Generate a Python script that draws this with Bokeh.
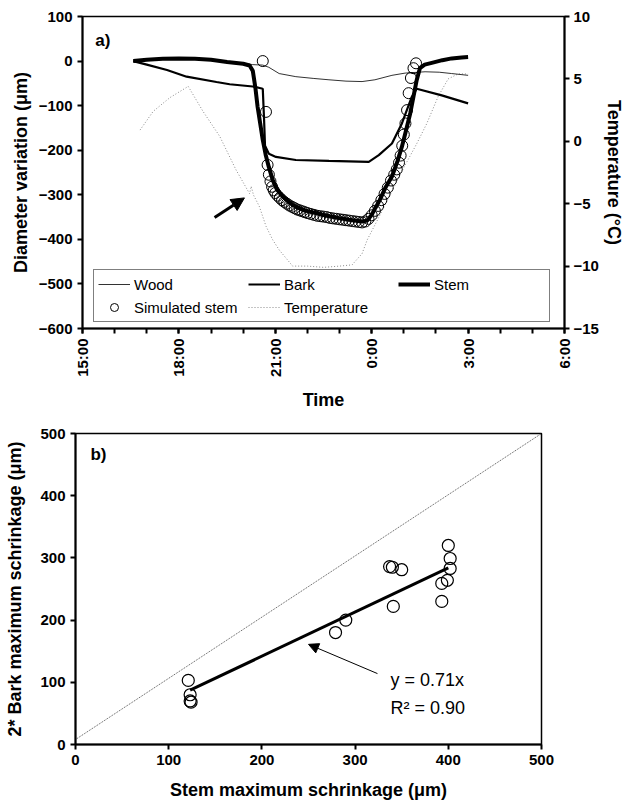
from bokeh.plotting import figure
from bokeh.models import (Range1d, LinearAxis, FixedTicker, Legend, LegendItem,
                          Arrow, NormalHead, Label)
from bokeh.layouts import column, row
from bokeh.embed import file_html
from bokeh.resources import INLINE

FONT = "Liberation Sans"

# ---------------- panel a) data (time in hours; 24 = 0:00 next day) ----------------
time_ticks = [15, 18, 21, 24, 27, 30]
time_labels = ["15:00", "18:00", "21:00", "0:00", "3:00", "6:00"]
time_minor = [15, 16, 17, 18, 19, 20, 21, 22, 23, 24, 25, 26, 27, 28, 29, 30]
diam_ticks = [-600, -500, -400, -300, -200, -100, 0, 100]
temp_ticks = [-15, -10, -5, 0, 5, 10]

wood_t = [16.58, 17.0, 17.5, 18.0, 18.5, 19.0, 19.5, 20.0, 20.3, 20.61, 20.8, 21.12, 21.64,
          22.2, 22.67, 23.2, 23.7, 24.1, 24.63, 25.04, 25.66, 26.1, 26.49, 27.0]
wood_d = [0, 2, 4, 5, 4, 2, -2, -5, -8, -9, -14, -28, -35,
          -39, -42, -45, -46, -42, -32, -27, -24, -25, -28, -32]

bark_t = [16.58, 17.0, 17.63, 18.24, 19.17, 19.58, 20.3, 20.61, 20.65, 20.68, 20.8, 21.02,
          21.64, 22.67, 23.91, 24.22, 24.63, 24.94, 25.25, 25.4, 26.18, 27.0]
bark_d = [0, -8, -20, -35, -47, -52, -57, -62, -130, -190, -208, -215,
          -222, -224, -226, -211, -185, -140, -80, -62, -77, -95]

stem_t = [16.58, 17.0, 17.5, 18.0, 18.5, 19.0, 19.5, 20.0, 20.2, 20.3, 20.38, 20.45, 20.53,
          20.61, 20.7, 20.8, 20.92, 21.05, 21.23, 21.45, 21.64, 21.9, 22.26, 22.6, 22.98,
          23.3, 23.7, 23.86, 24.0, 24.11, 24.25, 24.42, 24.63, 24.8, 24.94, 25.07, 25.2,
          25.3, 25.4, 25.5, 25.65, 25.87, 26.2, 26.49, 26.8, 27.0]
stem_d = [0, 3, 5, 6, 5, 3, -2, -6, -10, -22, -60, -103, -140,
          -177, -210, -238, -267, -288, -304, -318, -327, -335, -341, -347, -352,
          -356, -360, -358, -345, -330, -312, -285, -259, -225, -192, -155, -117,
          -80, -43, -16, -8, -4, 2, 6, 8, 9]

sim_t = [20.61, 20.71, 20.76, 20.80, 20.85, 20.90, 20.95, 21.00, 21.07, 21.14, 21.21, 21.28,
         21.36, 21.44, 21.52, 21.60, 21.68, 21.76, 21.84, 21.92, 22.00, 22.10, 22.20, 22.30,
         22.40, 22.50, 22.60, 22.70, 22.80, 22.90, 23.00, 23.10, 23.20, 23.30, 23.40, 23.50,
         23.60, 23.70, 23.80, 23.90, 24.00, 24.10, 24.20, 24.30, 24.40, 24.50, 24.60, 24.70,
         24.78, 24.85, 24.90, 24.95, 25.00, 25.05, 25.10, 25.15, 25.22, 25.30, 25.38]
sim_d = [0, -114, -233, -255, -270, -282, -290, -296, -302, -307, -312, -316,
         -320, -324, -327, -330, -333, -335, -337, -339, -341, -343, -345, -347,
         -348, -349, -350, -352, -353, -354, -355, -356, -357, -358, -359, -360,
         -361, -362, -360, -354, -346, -336, -325, -312, -298, -284, -268, -255,
         -243, -228, -212, -190, -165, -140, -110, -72, -38, -16, -5]

temp_t = [16.79, 17.2, 17.72, 18.29, 18.75, 19.27, 19.78, 20.2, 20.25, 20.32, 20.5, 20.71,
          20.92, 21.12, 21.54, 22.0, 22.5, 23.0, 23.39, 23.7, 23.86, 24.2, 24.63, 25.0,
          25.4, 25.71, 26.07, 26.38, 26.69, 27.0]
temp_c = [0.9, 2.4, 3.5, 4.4, 2.4, 0.4, -2.3, -4.2, -3.6, -4.3, -5.2, -6.8,
          -7.9, -8.7, -10.0, -10.0, -10.1, -10.0, -9.9, -9.0, -7.9, -6.2, -4.0, -2.1,
          -0.2, 1.4, 3.6, 5.0, 5.4, 5.4]

# ---------------- panel b) data ----------------
stem_max = [121, 123, 123, 124, 279, 290, 337, 340, 350, 341, 393, 393, 399, 400, 402, 402]
bark2_max = [103, 80, 70, 68, 180, 200, 286, 285, 281, 222, 230, 259, 264, 320, 299, 283]
fit_slope = 0.71
fit_x = [123, 400]
fit_y = [fit_slope * v for v in fit_x]
ref_x = [0, 500]
ref_y = [8, 500]
b_ticks = [0, 100, 200, 300, 400, 500]


def style_axis(ax, label_size="18px"):
    ax.axis_line_width = 2
    ax.major_tick_line_width = 2
    ax.minor_tick_line_width = 2
    ax.major_tick_in = 0
    ax.major_tick_out = 5
    ax.minor_tick_in = 0
    ax.minor_tick_out = 0
    ax.major_label_text_font = FONT
    ax.major_label_text_font_style = "bold"
    ax.major_label_text_font_size = "15px"
    ax.major_label_text_color = "black"
    ax.axis_label_text_font = FONT
    ax.axis_label_text_font_style = "bold"
    ax.axis_label_text_font_size = label_size
    ax.axis_label_text_color = "black"


# ================= panel a =================
p1 = figure(width=626, height=412, output_backend="svg", toolbar_location=None,
            x_range=Range1d(15, 30), y_range=Range1d(-600, 100),
            min_border_left=82, min_border_right=59, min_border_top=16, min_border_bottom=83)
p1.extra_y_ranges = {"temp": Range1d(-15, 10)}
p1.xgrid.visible = False
p1.ygrid.visible = False
p1.outline_line_color = "black"
p1.outline_line_width = 1.5

xa = p1.xaxis[0]
xa.ticker = FixedTicker(ticks=time_ticks, minor_ticks=time_minor)
xa.major_label_overrides = {t: l for t, l in zip(time_ticks, time_labels)}
xa.major_label_orientation = 1.5708
xa.axis_label = "Time"
style_axis(xa)
xa.minor_tick_out = 5
xa.axis_label_standoff = 10

ya = p1.yaxis[0]
ya.ticker = FixedTicker(ticks=diam_ticks)
ya.axis_label = "Diameter variation (μm)"
style_axis(ya)

ra = LinearAxis(y_range_name="temp", axis_label="Temperature (°C)",
                ticker=FixedTicker(ticks=temp_ticks))
style_axis(ra)
ra.major_label_standoff = 4
ra.axis_label_standoff = 2
p1.add_layout(ra, "right")

r_temp = p1.line(temp_t, temp_c, y_range_name="temp", line_color="#8a8a8a",
                 line_width=1, line_dash="1 2")
r_wood = p1.line(wood_t, wood_d, line_color="#333333", line_width=1)
r_bark = p1.line(bark_t, bark_d, line_color="black", line_width=2.2)
r_stem = p1.line(stem_t, stem_d, line_color="black", line_width=4)
r_sim = p1.scatter(sim_t, sim_d, marker="circle", size=11, fill_color=None,
                   line_color="black", line_width=1)

p1.add_layout(Arrow(end=NormalHead(size=13, fill_color="black", line_color="black"),
                    x_start=19.11, y_start=-351, x_end=20.04, y_end=-307,
                    line_width=3, line_color="black"))
p1.add_layout(Label(x=15.4, y=46, text="a)", text_font=FONT, text_font_style="bold",
                    text_color="black", text_font_size="17px", text_baseline="middle",
                    text_align="left"))

legend = Legend(items=[LegendItem(label="Wood", renderers=[r_wood]),
                       LegendItem(label="Bark", renderers=[r_bark]),
                       LegendItem(label="Stem", renderers=[r_stem]),
                       LegendItem(label="Simulated stem", renderers=[r_sim]),
                       LegendItem(label="Temperature", renderers=[r_temp])],
                location=(11, 6), orientation="horizontal", ncols=3,
                glyph_width=32, glyph_height=20, label_standoff=4, label_width=111,
                label_height=20, spacing=3, padding=4, margin=0,
                border_line_color="black", border_line_width=1,
                background_fill_alpha=1, label_text_font=FONT,
                label_text_font_size="15px", label_text_color="black")
p1.add_layout(legend)

# ================= panel b =================
p2 = figure(width=626, height=400, output_backend="svg", toolbar_location=None,
            x_range=Range1d(0, 500), y_range=Range1d(0, 500),
            min_border_left=75, min_border_right=85, min_border_top=21, min_border_bottom=68)
p2.xgrid.visible = False
p2.ygrid.visible = False
p2.outline_line_color = "black"
p2.outline_line_width = 1.5
for ax, lab in ((p2.xaxis[0], "Stem maximum schrinkage (μm)"),
                (p2.yaxis[0], "2* Bark maximum schrinkage (μm)")):
    ax.ticker = FixedTicker(ticks=b_ticks)
    ax.axis_label = lab
    style_axis(ax)
p2.yaxis[0].axis_label_standoff = 12
p2.xaxis[0].axis_label_standoff = 12

p2.line(ref_x, ref_y, line_color="#555555", line_width=1, line_dash="1 1")
p2.line(fit_x, fit_y, line_color="black", line_width=3)
p2.scatter(stem_max, bark2_max, marker="circle", size=12, fill_color=None,
           line_color="black", line_width=1.2)

p2.add_layout(Arrow(end=NormalHead(size=10, fill_color="black", line_color="black"),
                    x_start=324, y_start=114, x_end=250, y_end=161,
                    line_width=1, line_color="black"))
p2.add_layout(Label(x=16, y=466, text="b)", text_font=FONT, text_font_style="bold",
                    text_color="black", text_font_size="17px", text_baseline="middle",
                    text_align="left"))
p2.add_layout(Label(x=338, y=103, text="y = 0.71x", text_font=FONT, text_color="black",
                    text_font_size="18px", text_baseline="middle", text_align="left"))
p2.add_layout(Label(x=338, y=59, text="R² = 0.90", text_font=FONT, text_color="black",
                    text_font_size="18px", text_baseline="middle", text_align="left"))

layout = column(row(p1), row(p2), spacing=0)
open("out.html", "w").write(file_html(layout, INLINE))
